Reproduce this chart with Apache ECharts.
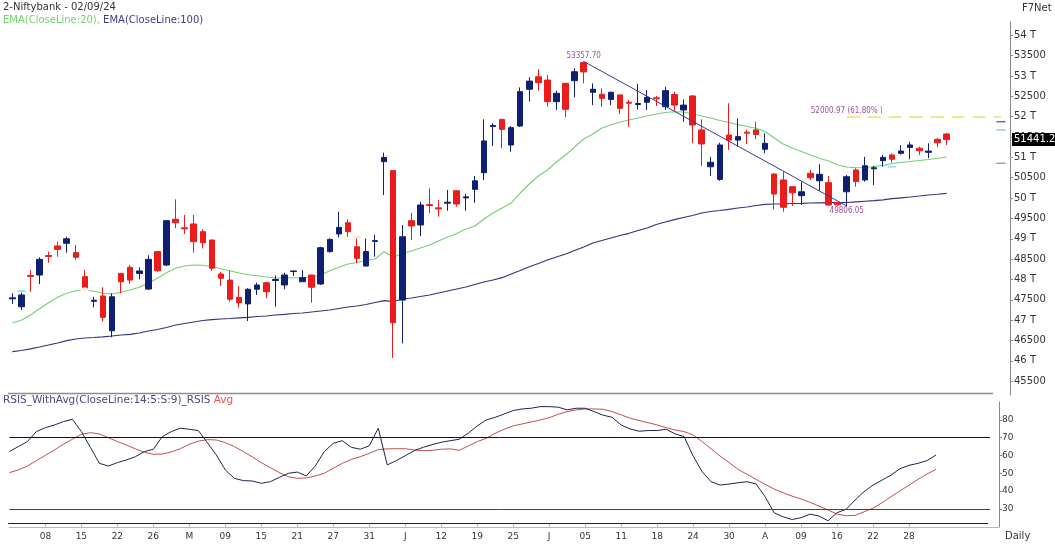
<!DOCTYPE html>
<html><head><meta charset="utf-8">
<script src="https://cdn.jsdelivr.net/npm/echarts@6/dist/echarts.min.js"></script>
<style>html,body{margin:0;padding:0;background:#fff;}#c{width:1055px;height:545px;}</style>
</head><body><div id="c"></div>
<script>
const dates = [
'2024-04-02','2024-04-03','2024-04-04','2024-04-05','2024-04-08','2024-04-09','2024-04-10','2024-04-12','2024-04-15','2024-04-16','2024-04-18','2024-04-19','2024-04-22','2024-04-23','2024-04-24','2024-04-25','2024-04-26','2024-04-29','2024-04-30',
'2024-05-02','2024-05-03','2024-05-06','2024-05-07','2024-05-08','2024-05-09','2024-05-10','2024-05-13','2024-05-14','2024-05-15','2024-05-16','2024-05-17','2024-05-18','2024-05-21','2024-05-22','2024-05-23','2024-05-24','2024-05-27','2024-05-28','2024-05-29','2024-05-30','2024-05-31',
'2024-06-03','2024-06-04','2024-06-05','2024-06-06','2024-06-07','2024-06-10','2024-06-11','2024-06-12','2024-06-13','2024-06-14','2024-06-18','2024-06-19','2024-06-20','2024-06-21','2024-06-24','2024-06-25','2024-06-26','2024-06-27','2024-06-28',
'2024-07-01','2024-07-02','2024-07-03','2024-07-04','2024-07-05','2024-07-08','2024-07-09','2024-07-10','2024-07-11','2024-07-12','2024-07-15','2024-07-16','2024-07-18','2024-07-19','2024-07-22','2024-07-23','2024-07-24','2024-07-25','2024-07-26','2024-07-29','2024-07-30','2024-07-31',
'2024-08-01','2024-08-02','2024-08-05','2024-08-06','2024-08-07','2024-08-08','2024-08-09','2024-08-12','2024-08-13','2024-08-14','2024-08-16','2024-08-19','2024-08-20','2024-08-21','2024-08-22','2024-08-23','2024-08-26','2024-08-27','2024-08-28','2024-08-29','2024-08-30',
'2024-09-02'];
const emptySlots = ['p1','p2','p3','p4','p5','p6','p7'];

const opens = [47525,47330,48100,48110,48590,48825,48890,48660,48070,47465,
47595,46740,48150,48300,48150,47765,48685,48355,49480,49270,
49365,49175,48970,48135,47985,47560,47400,47760,47920,47975,
47865,48195,47945,48110,47890,48685,49120,49395,48805,48330,
48935,50895,50675,47495,49445,49340,49840,49760,49875,50180,
50005,50215,50625,51760,51935,51305,51770,52675,52980,52900,
52370,52820,52885,53330,52600,52550,52425,52535,52355,52300,
52355,52465,52245,52545,52165,52510,51675,50770,50460,51550,
51425,51620,51675,51200,50590,50445,50280,50060,50610,50425,
50380,49890,50155,50690,50445,50720,50920,51060,51100,51245,
51225,51125,51445,51575];
const closes = [47550,47620,48075,48495,48565,48740,49000,48545,47760,47490,
47070,47575,47945,47985,48210,48495,48215,49445,49395,49245,
48930,48905,48275,48030,47515,47430,47760,47865,47700,48000,
48110,48210,48045,47810,48780,48985,49280,49175,48520,48685,
48955,51000,46940,49050,49315,49830,49820,49735,49900,49855,
50030,50425,51405,51785,51690,51730,52615,52875,52835,52370,
52575,52180,53105,53100,52675,52450,52600,52205,52330,52325,
52475,52440,52640,52285,52285,51795,51330,50880,51305,51425,
51510,51595,51565,51345,50100,49775,50130,50155,50500,50585,
49830,49835,50525,50405,50795,50745,51000,50955,51155,51305,
51165,51155,51360,51441.2];
const lows = [47400,47250,47700,47890,48410,48560,48660,48460,47700,47315,
46965,46580,47660,47890,48005,47740,48190,48330,49260,49120,
48660,48765,48215,47840,47455,47315,46980,47620,47540,47330,
47760,48085,47940,47430,47865,48660,49035,49050,48400,48325,
48560,50075,46075,46430,48970,49070,49625,49545,49690,49790,
49690,49885,50445,51280,51225,51140,51750,52370,52640,52245,
52165,51985,52475,52820,52285,52245,52285,52065,51755,52180,
52165,52265,52165,52145,51875,51345,50790,50545,50425,51180,
51265,51330,51445,51100,49725,49665,49805,49830,50445,50180,
49810,49815,49806.05,50280,50405,50320,50770,50870,51070,50955,
51060,50980,51250,51305];
const highs = [47660,47675,48235,48545,48685,48930,49050,48845,48235,47575,
47810,47660,48160,48355,48300,48595,48690,49460,49970,49585,
49585,49235,48975,48190,48215,47840,47785,47920,47945,48100,
48165,48215,48235,48115,48805,49010,49665,49480,49010,49010,
49095,51115,50690,49340,49640,49910,50240,49955,50200,50185,
50100,50545,51935,51840,51940,51770,52720,52970,53165,53025,
52640,52825,53190,53357.7,52820,52695,52615,52540,52410,52805,
52655,52510,52735,52615,52425,52535,51935,51015,51360,52330,
51960,51675,51875,51590,50610,50650,50285,50405,50690,50830,
50545,49900,50565,50730,51015,50790,51060,51100,51300,51385,
51265,51345,51470,51595];

const ema20 = [46938,46997,47127,47282,47430,47562,47661,47724,47742,47710,
47661,47643,47685,47742,47808,47906,48029,48167,48275,48331,
48356,48349,48314,48265,48216,48159,48118,48093,48061,48036,
48036,48044,48044,48054,48110,48216,48299,48380,48417,48466,
48503,48683,48545,48638,48700,48774,48847,48946,49044,49130,
49240,49314,49486,49634,49756,49879,50125,50346,50543,50690,
50887,51059,51255,51452,51575,51722,51796,51870,51919,51968,
52017,52066,52103,52122,52115,52066,52017,51968,51906,51857,
51808,51759,51715,51636,51476,51329,51231,51145,51059,50978,
50911,50813,50764,50747,50752,50776,50801,50850,50874,50899,
50924,50948,50978,51010];
const ema100 = [46226,46255,46297,46341,46390,46440,46496,46538,46562,46575,
46592,46612,46636,46653,46685,46734,46771,46820,46882,46919,
46956,46992,47012,47029,47042,47059,47071,47091,47103,47128,
47145,47164,47177,47201,47226,47250,47287,47324,47349,47385,
47435,47479,47454,47521,47545,47582,47619,47668,47717,47766,
47815,47877,47938,47987,48044,48135,48221,48314,48393,48479,
48553,48626,48712,48798,48897,48958,49019,49081,49135,49204,
49265,49351,49413,49469,49523,49572,49634,49670,49695,49725,
49756,49781,49818,49847,49855,49860,49867,49872,49879,49884,
49887,49887,49892,49909,49923,49936,49958,49985,50007,50027,
50051,50076,50095,50118];

const rsi = [62.2,65.0,67.8,73.4,75.6,77.1,79.0,80.3,73.4,64.6,
55.6,54.1,56.0,57.5,59.3,62.2,63.5,70.6,73.4,75.3,
74.7,74.0,67.2,60.3,51.9,47.2,45.9,45.7,44.4,45.3,
47.7,50.0,50.7,48.5,54.1,62.2,66.8,68.3,64.6,63.5,
65.4,75.3,54.7,57.1,59.9,62.7,64.6,66.1,67.4,68.3,
69.1,72.5,76.6,79.9,81.4,83.3,85.2,86.1,86.5,87.4,
87.4,87.1,85.6,86.5,86.5,84.6,82.6,81.4,77.1,74.9,
73.6,74.0,74.0,74.7,72.1,70.6,59.7,50.9,45.3,43.4,
44.0,44.7,45.3,44.0,36.9,27.9,25.6,24.1,25.1,27.1,
26.0,23.4,27.9,29.8,35.0,39.7,43.4,46.2,49.0,52.6,
54.5,55.6,57.1,60.3];
const rsiAvg = [50.4,51.9,54.1,57.1,60.1,63.1,66.3,69.1,71.9,72.8,
72.1,70.0,67.8,65.9,63.7,61.8,60.7,60.8,62.0,63.8,
66.3,68.0,68.9,68.7,67.2,65.0,62.2,59.2,56.0,53.2,
50.4,48.1,47.2,47.4,48.5,50.0,52.8,55.6,57.8,59.3,
61.2,63.3,63.7,63.8,63.8,63.1,62.7,62.9,63.5,63.7,
62.9,65.3,67.8,69.6,72.5,74.7,76.6,77.7,78.8,79.9,
81.2,83.1,84.6,85.6,86.1,86.1,85.9,84.6,82.8,80.9,
79.6,78.4,77.1,75.6,74.3,73.4,71.5,67.8,63.7,59.7,
56.0,52.2,49.4,46.6,43.8,41.2,39.1,37.2,35.6,33.7,
31.6,29.4,27.1,26.2,26.4,28.4,30.5,33.5,36.9,40.1,
43.4,46.6,49.6,52.2];

const priceTicks = [45500,46000,46500,47000,47500,48000,48500,49000,49500,50000,50500,51000,51500,52000,52500,53000,53500,54000];
const rsiTicks = [30,40,50,60,70,80];
const rsiLevels = [70, 30];
const swingHigh = [63, 53357.70];
const swingLow = [92, 49806.05];
const fibLevel = 52000.97, fibLabel = '52000.97 (61.80% )';
const lastPrice = 51441.2;
const yellowRings = [[7, 48373], [8, 47700]];
const yellowDashes = [[38, 49037]];
const yellowOvals = [[84, 50960]];
const cyanDashes = [[1, 47717], [97, 50771]];
const cyanOvals = [[40, 49633]];
const edgeMarks = [[109, 51877, '#5b3d80'], [109, 51673, '#7fb8d6'], [109, 50855, '#a27788']];

const TICK_EVERY = 4;
const MONTHS = 'JFMAMJJASOND';
const FONT = 'DejaVu Sans';
const categories = dates.concat(emptySlots);
const candles = opens.map((o, i) => [o, closes[i], lows[i], highs[i]]);
function isTick(idx) { return idx > 0 && idx % TICK_EVERY === 0 && idx < dates.length; }
function tickText(idx) {
  const d = dates[idx];
  const m = +d.slice(5, 7), pm = +dates[idx - TICK_EVERY].slice(5, 7);
  return m !== pm ? MONTHS[m - 1] : d.slice(8, 10);
}
const purple = '#9a4f9a';

const chart = echarts.init(document.getElementById('c'), null, {renderer: 'canvas'});
chart.setOption({
  animation: false,
  backgroundColor: '#ffffff',
  textStyle: {fontFamily: FONT},
  title: [
    {text: '2-Niftybank - 02/09/24', left: 3, top: 2, padding: 0,
     textStyle: {fontSize: 10, fontWeight: 'normal', color: '#333', fontFamily: FONT}},
    {text: '{g|EMA(CloseLine:20),} {b|EMA(CloseLine:100)}', left: 3, top: 15, padding: 0,
     textStyle: {fontSize: 10, fontWeight: 'normal', fontFamily: FONT,
       rich: {g: {color: '#6fd36f', fontSize: 10, fontFamily: FONT}, b: {color: '#3d3d8f', fontSize: 10, fontFamily: FONT}}}},
    {text: '{b|RSIS_WithAvg(CloseLine:14:5:S:9)_RSIS} {r|Avg}', left: 3, top: 395, padding: 0,
     textStyle: {fontSize: 10, fontWeight: 'normal', fontFamily: FONT,
       rich: {b: {color: '#4a4a7e', fontSize: 10.5, fontFamily: FONT}, r: {color: '#e05a5a', fontSize: 10.5, fontFamily: FONT}}}},
    {text: 'F7Net', left: 1022, top: 3, padding: 0,
     textStyle: {fontSize: 10, fontWeight: 'normal', color: '#333', fontFamily: FONT}},
    {text: 'Daily', left: 1005, top: 531, padding: 0,
     textStyle: {fontSize: 10, fontWeight: 'normal', color: '#333', fontFamily: FONT}}
  ],
  grid: [
    {left: 12.3, right: 45, top: 21.7, height: 373.3},
    {left: 9.4, right: 56, top: 402, height: 124.8}
  ],
  xAxis: [
    {type: 'category', gridIndex: 0, data: categories, boundaryGap: false,
     axisLine: {show: false}, axisTick: {show: false}, axisLabel: {show: false}, splitLine: {show: false}},
    {type: 'category', gridIndex: 1, data: categories, boundaryGap: false,
     axisLine: {show: true, lineStyle: {color: '#e9a3a3', width: 1}},
     axisTick: {show: true, inside: true, length: 3, interval: (i) => isTick(i), lineStyle: {color: '#e9a3a3'}},
     axisLabel: {show: true, interval: (i) => isTick(i), formatter: (v, i) => tickText(i),
       fontSize: 9, color: '#333', margin: 5, fontFamily: FONT},
     splitLine: {show: false}}
  ],
  yAxis: [
    {type: 'value', gridIndex: 0, position: 'right', min: 45162, max: 54334, scale: true,
     axisLine: {show: true, lineStyle: {color: '#888', width: 1}},
     axisTick: {show: true, length: 3, customValues: priceTicks, lineStyle: {color: '#888'}},
     axisLabel: {show: true, customValues: priceTicks, margin: 4, fontSize: 10, color: '#333', fontFamily: FONT,
       formatter: (v) => (v % 1000 === 0 ? (v / 1000) + ' T' : String(v))},
     splitLine: {show: false}},
    {type: 'value', gridIndex: 1, position: 'right', min: 20, max: 90, interval: 10,
     axisLine: {show: true, lineStyle: {color: '#888', width: 1}},
     axisTick: {show: true, length: 3, customValues: rsiTicks, lineStyle: {color: '#888'}},
     axisLabel: {show: true, customValues: rsiTicks, margin: 3, fontSize: 9, color: '#333', fontFamily: FONT},
     splitLine: {show: false}}
  ],
  graphic: [
    {type: 'line', shape: {x1: 8, y1: 393.5, x2: 993, y2: 393.5}, style: {stroke: '#8c8c8c', lineWidth: 1.5}, silent: true},
    {type: 'line', shape: {x1: 8, y1: 523.5, x2: 988, y2: 523.5}, style: {stroke: '#222', lineWidth: 1}, silent: true}
  ],
  series: [
    {name: 'EMA(CloseLine:100)', type: 'line', xAxisIndex: 0, yAxisIndex: 0, data: ema100,
     showSymbol: false, symbol: 'none', lineStyle: {color: '#34347e', width: 1.2}, z: 2},
    {name: 'EMA(CloseLine:20)', type: 'line', xAxisIndex: 0, yAxisIndex: 0, data: ema20,
     showSymbol: false, symbol: 'none', lineStyle: {color: '#74cf74', width: 1.1}, z: 2},
    {name: 'Niftybank', type: 'candlestick', xAxisIndex: 0, yAxisIndex: 0, data: candles,
     barWidth: 6, clip: false, z: 3,
     itemStyle: {color: '#0f1f72', color0: '#ec1c1c', borderColor: '#0f1f72', borderColor0: '#ec1c1c', borderWidth: 1},
     markLine: {silent: true, symbol: ['none', 'none'], animation: false,
       data: [
         [{coord: swingHigh, lineStyle: {color: '#3b3b86', width: 1, type: 'solid'}, label: {show: false}}, {coord: swingLow}],
         [{coord: [swingLow[0], fibLevel], lineStyle: {color: '#f0e88e', width: 2, type: [13, 8]}, label: {show: false}}, {coord: [109, fibLevel]}],
         {yAxis: lastPrice, lineStyle: {color: 'rgba(0,0,0,0)', width: 1},
          label: {show: true, position: 'end', distance: 2, formatter: String(lastPrice), color: '#fff',
            backgroundColor: '#000', padding: [2, 3, 1, 2], fontSize: 10, fontFamily: FONT}}
       ]},
     markPoint: {silent: true, symbol: 'circle', symbolSize: 0, animation: false,
       label: {fontSize: 8, color: purple, fontFamily: 'DejaVu Sans Condensed'},
       data: [
         {coord: swingHigh, label: {show: true, position: 'top', distance: 2, formatter: swingHigh[1].toFixed(2)}},
         {coord: swingLow, label: {show: true, position: 'bottom', distance: 1, formatter: swingLow[1].toFixed(2)}},
         {coord: [swingLow[0], fibLevel], label: {show: true, position: 'top', distance: 2, formatter: fibLabel}}
       ]}},
    {name: 'marks', type: 'scatter', xAxisIndex: 0, yAxisIndex: 0, silent: true, z: 4,
     data: [].concat(
       yellowRings.map(p => ({value: p, symbol: 'emptyCircle', symbolSize: 7, itemStyle: {color: '#fff', borderColor: '#efe596', borderWidth: 1.2}})),
       yellowDashes.map(p => ({value: p, symbol: 'rect', symbolSize: [7, 1.5], itemStyle: {color: '#efe07a'}})),
       yellowOvals.map(p => ({value: p, symbol: 'emptyCircle', symbolSize: [7, 13], itemStyle: {color: '#fff', borderColor: '#efe596', borderWidth: 1}})),
       cyanDashes.map(p => ({value: p, symbol: 'rect', symbolSize: [8, 2], itemStyle: {color: '#86dbe8'}})),
       cyanOvals.map(p => ({value: p, symbol: 'emptyCircle', symbolSize: [6, 34], itemStyle: {color: 'rgba(255,255,255,0)', borderColor: '#86d3e6', borderWidth: 1.2}})),
       edgeMarks.map(p => ({value: [p[0], p[1]], symbol: 'rect', symbolSize: [9, 1.5], itemStyle: {color: p[2]}}))
     )},
    {name: 'RSIS', type: 'line', xAxisIndex: 1, yAxisIndex: 1, data: rsi,
     showSymbol: false, symbol: 'none', lineStyle: {color: '#23234f', width: 1}, z: 3,
     markLine: {silent: true, symbol: ['none', 'none'], animation: false, label: {show: false},
       data: rsiLevels.map((lv, k) => [{coord: [0, lv], lineStyle: {color: k === 0 ? '#111' : '#444', width: 1, type: 'solid'}}, {coord: [109, lv]}])}},
    {name: 'Avg', type: 'line', xAxisIndex: 1, yAxisIndex: 1, data: rsiAvg,
     showSymbol: false, symbol: 'none', lineStyle: {color: '#c05050', width: 1}, z: 2}
  ]
});
</script></body></html>
